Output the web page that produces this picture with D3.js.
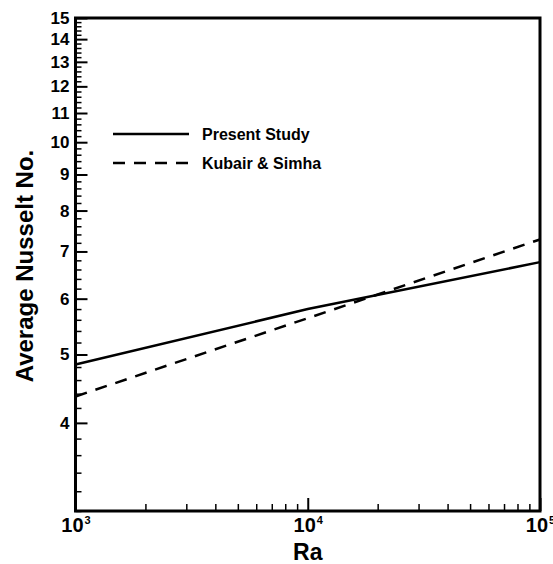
<!DOCTYPE html>
<html>
<head>
<meta charset="utf-8">
<script src="https://cdn.jsdelivr.net/npm/d3@7"></script>
<style>
  body { margin: 0; background: #fff; }
  svg text { font-family: "Liberation Sans", Arial, sans-serif; font-weight: bold; fill: #000; }
</style>
</head>
<body>
<div id="chart"></div>
<script>
// data
const raValues = [1e3, 1e4, 1e5];
const presentStudy = [4.84, 5.80, 6.76];
const kubairSimha = [4.36, 5.63, 7.28];
const seriesNames = ["Present Study", "Kubair & Simha"];
const yMajorTicks = [4, 5, 6, 7, 8, 9, 10, 11, 12, 13, 14, 15];
const xMajorTicks = [1e3, 1e4, 1e5];

const W = 553, H = 564;
const margin = {left: 75.5, top: 18, right: 13, bottom: 53};
const w = W - margin.left - margin.right,
      h = H - margin.top - margin.bottom;

const svg = d3.select("#chart").append("svg")
    .attr("width", W)
    .attr("height", H);

const g = svg.append("g").attr("transform", `translate(${margin.left},${margin.top})`);

const x = d3.scaleLog().domain([1e3, 1e5]).range([0, w]);
const y = d3.scaleLog().domain([3, 15]).range([h, 0]);

// minor ticks
const yMinor = d3.range(3, 15.001, 0.2).map(v => +v.toFixed(1)).filter(v => !yMajorTicks.includes(v));
const xMinor = [];
[1e3, 1e4].forEach(d => { for (let k = 2; k <= 9; k++) xMinor.push(k * d); });

const yMinorAxis = g.append("g")
    .call(d3.axisLeft(y).tickValues(yMinor).tickSize(-6).tickFormat(""));
const yAxis = g.append("g")
    .call(d3.axisLeft(y).tickValues(yMajorTicks).tickSize(-12).tickPadding(6).tickFormat(d3.format("d")));
const xMinorAxis = g.append("g").attr("transform", `translate(0,${h})`)
    .call(d3.axisBottom(x).tickValues(xMinor).tickSize(-7).tickFormat(""));
const xAxis = g.append("g").attr("transform", `translate(0,${h})`)
    .call(d3.axisBottom(x).tickValues(xMajorTicks).tickSize(-13).tickPadding(8).tickFormat(""));

[yMinorAxis, yAxis, xMinorAxis, xAxis].forEach(a => {
    a.select(".domain").remove();
    a.selectAll(".tick line").attr("stroke", "#000").attr("stroke-width", 1.5);
});
yAxis.selectAll(".tick line").attr("stroke-width", 2);
xAxis.selectAll(".tick line").attr("stroke-width", 2);
yAxis.selectAll(".tick text").style("font-size", "17px").attr("fill", "#000");

// x labels as 10^n
xAxis.selectAll(".tick").each(function(d) {
    const t = d3.select(this).select("text")
        .style("font-size", "20px")
        .attr("fill", "#000")
        .attr("text-anchor", "middle")
        .attr("y", 21)
        .attr("dy", null);
    t.append("tspan").text("10");
    t.append("tspan").text(Math.round(Math.log10(d)))
        .style("font-size", "11px")
        .attr("dy", "-8")
        .attr("dx", "1");
});

// frame
g.append("rect")
    .attr("width", w).attr("height", h)
    .attr("fill", "none").attr("stroke", "#000").attr("stroke-width", 3);

// lines
const line = d3.line().x((d, i) => x(raValues[i])).y(d => y(d));
g.append("path").datum(presentStudy)
    .attr("d", line).attr("fill", "none").attr("stroke", "#000").attr("stroke-width", 2.5);
g.append("path").datum(kubairSimha)
    .attr("d", line).attr("fill", "none").attr("stroke", "#000").attr("stroke-width", 2.5)
    .attr("stroke-dasharray", "12,9");

// legend
const legend = svg.append("g");
const legendRows = [{name: seriesNames[0], y: 134, dash: null}, {name: seriesNames[1], y: 163, dash: "12,9"}];
legendRows.forEach(r => {
    legend.append("line")
        .attr("x1", 113).attr("x2", 189).attr("y1", r.y).attr("y2", r.y)
        .attr("stroke", "#000").attr("stroke-width", 2.5)
        .attr("stroke-dasharray", r.dash);
    legend.append("text")
        .attr("x", 202).attr("y", r.y + 5.5)
        .style("font-size", "16px")
        .text(r.name);
});

// axis titles
svg.append("text")
    .attr("x", margin.left + w / 2).attr("y", 560)
    .attr("text-anchor", "middle")
    .style("font-size", "23px")
    .text("Ra");
svg.append("text")
    .attr("transform", "translate(33,266) rotate(-90)")
    .attr("text-anchor", "middle")
    .style("font-size", "24px")
    .text("Average Nusselt No.");
</script>
</body>
</html>
